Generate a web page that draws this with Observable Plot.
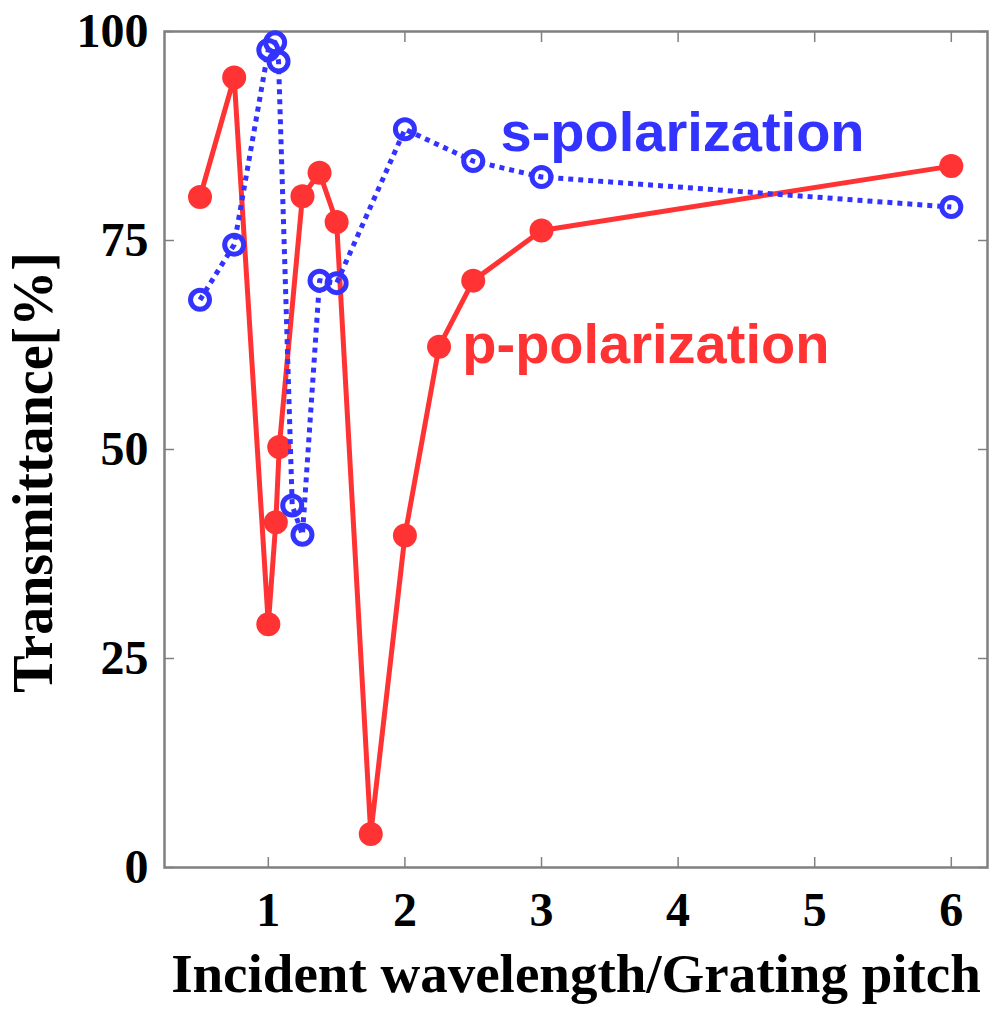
<!DOCTYPE html>
<html><head><meta charset="utf-8">
<script src="https://cdn.jsdelivr.net/npm/d3@7"></script>
<script src="https://cdn.jsdelivr.net/npm/@observablehq/plot@0.6"></script>
<style>body{margin:0;background:#fff}</style>
</head><body><div id="chart"></div>
<script>
// p-polarization (red, solid, filled dots)
const pX = [0.5, 0.75, 1.0, 1.055, 1.08, 1.25, 1.375, 1.5, 1.75, 2.0, 2.25, 2.5, 3.0, 6.0];
const pY = [80.2, 94.5, 29.1, 41.3, 50.3, 80.3, 83.1, 77.2, 4.0, 39.7, 62.3, 70.2, 76.2, 83.9];
// s-polarization (blue, dotted, open circles)
const sX = [0.5, 0.75, 1.0, 1.05, 1.075, 1.175, 1.25, 1.375, 1.5, 2.0, 2.5, 3.0, 6.0];
const sY = [67.9, 74.5, 97.8, 98.7, 96.4, 43.3, 39.8, 70.2, 69.9, 88.3, 84.5, 82.6, 79.0];
const xTicks = [1, 2, 3, 4, 5, 6];
const yTicks = [0, 25, 50, 75, 100];
const seriesNames = ["p-polarization", "s-polarization"];
const seriesLabelX = [2.42, 2.70];
const seriesLabelY = [62.5, 87.8];
const xTitle = "Incident wavelength/Grating pitch";
const yTitle = "Transmittance[%]";

const RED = "#ff3333", BLUE = "#3333ff", GRAY = "#808080";
const serif = "'Liberation Serif','Times New Roman',serif";
const sans = "'Liberation Sans',Arial,sans-serif";

const pData = pX.map((x, i) => ({x, y: pY[i]}));
const sData = sX.map((x, i) => ({x, y: sY[i]}));
const labels = seriesNames.map((name, i) => ({name, x: seriesLabelX[i], y: seriesLabelY[i]}));
const fmt = d => String(d);

const chart = Plot.plot({
  width: 995, height: 1009,
  marginLeft: 164, marginRight: 8, marginTop: 31, marginBottom: 142,
  x: {domain: [0.24, 6.265]},
  y: {domain: [0, 100]},
  style: {fontFamily: serif, fontWeight: "bold", fontSize: "48px", background: "#fff", color: "#000"},
  marks: [
    Plot.frame({stroke: GRAY, strokeWidth: 2.5}),
    Plot.axisX(xTicks, {anchor: "bottom", tickSize: -10, tickPadding: 34, stroke: GRAY, strokeWidth: 1.5, tickFormat: fmt, label: null}),
    Plot.axisX(xTicks, {anchor: "top", tickSize: -10, stroke: GRAY, strokeWidth: 1.5, tickFormat: () => "", label: null}),
    Plot.axisY(yTicks, {anchor: "left", tickSize: -10, tickPadding: 26, stroke: GRAY, strokeWidth: 1.5, tickFormat: fmt, label: null}),
    Plot.axisY(yTicks, {anchor: "right", tickSize: -10, stroke: GRAY, strokeWidth: 1.5, tickFormat: () => "", label: null}),
    Plot.line(pData, {x: "x", y: "y", stroke: RED, strokeWidth: 5}),
    Plot.dot(pData, {x: "x", y: "y", r: 12, fill: RED}),
    Plot.line(sData, {x: "x", y: "y", stroke: BLUE, strokeWidth: 5, strokeDasharray: "5,5", strokeLinecap: "butt"}),
    Plot.dot(sData, {x: "x", y: "y", r: 9.5, stroke: BLUE, strokeWidth: 5, fill: "none"}),
    Plot.text(labels.filter(d => d.name.startsWith("p")), {x: "x", y: "y", text: "name", fill: RED, textAnchor: "start", lineAnchor: "middle", fontFamily: sans, fontWeight: "bold", fontSize: 56}),
    Plot.text(labels.filter(d => d.name.startsWith("s")), {x: "x", y: "y", text: "name", fill: BLUE, textAnchor: "start", lineAnchor: "middle", fontFamily: sans, fontWeight: "bold", fontSize: 56}),
    Plot.text([xTitle], {frameAnchor: "bottom", textAnchor: "middle", lineAnchor: "middle", dy: 107, fontSize: 55, fontFamily: serif, fontWeight: "bold", fill: "#000"}),
    Plot.text([yTitle], {frameAnchor: "left", textAnchor: "middle", lineAnchor: "middle", rotate: -90, dx: -130, dy: 23, fontSize: 56, fontFamily: serif, fontWeight: "bold", fill: "#000"})
  ]
});
document.getElementById("chart").appendChild(chart);
</script>
</body></html>
